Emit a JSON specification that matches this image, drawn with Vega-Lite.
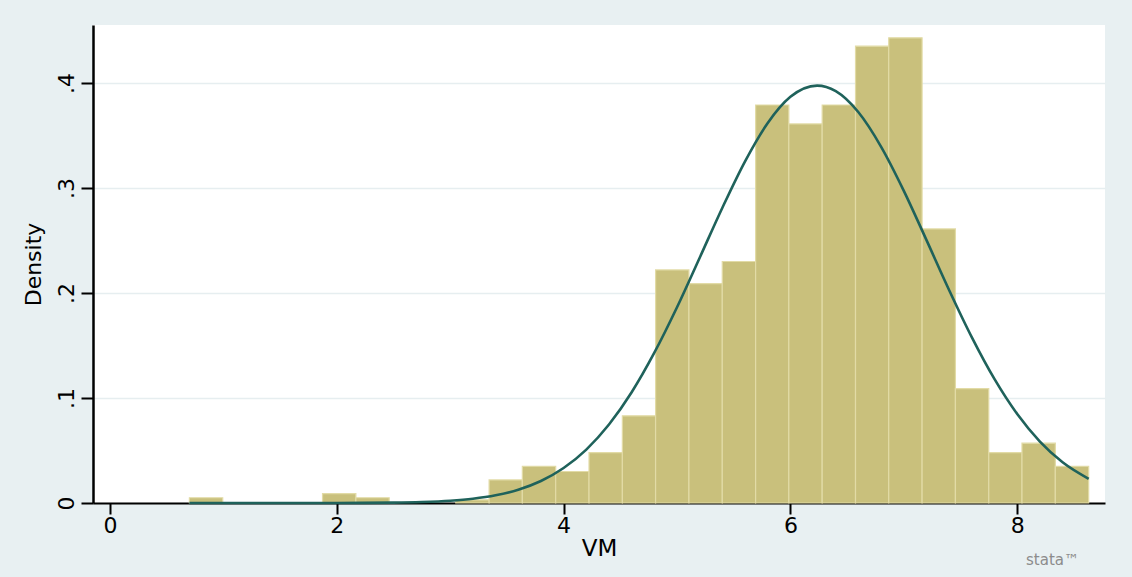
{
  "$schema": "https://vega.github.io/schema/vega-lite/v6.json",
  "width": 1012,
  "height": 478,
  "autosize": {"type": "none"},
  "padding": {"left": 93, "top": 25, "right": 27, "bottom": 74},
  "background": "#E8F0F2",
  "config": {
    "view": {"fill": "white", "stroke": null},
    "font": "DejaVu Sans"
  },
  "title": {
    "text": "stata™",
    "orient": "bottom",
    "anchor": "end",
    "fontSize": 15,
    "font": "DejaVu Sans",
    "fontWeight": "normal",
    "color": "#8C8C8C",
    "offset": -7,
    "dx": -26
  },
  "datasets": {
    "bins": [
      {"x0": 0.700, "x1": 0.994, "density": 0.005},
      {"x0": 1.874, "x1": 2.168, "density": 0.009},
      {"x0": 2.168, "x1": 2.462, "density": 0.005},
      {"x0": 3.049, "x1": 3.343, "density": 0.003},
      {"x0": 3.343, "x1": 3.636, "density": 0.022},
      {"x0": 3.636, "x1": 3.930, "density": 0.035},
      {"x0": 3.930, "x1": 4.224, "density": 0.030},
      {"x0": 4.224, "x1": 4.518, "density": 0.048},
      {"x0": 4.518, "x1": 4.811, "density": 0.083},
      {"x0": 4.811, "x1": 5.105, "density": 0.222},
      {"x0": 5.105, "x1": 5.399, "density": 0.209},
      {"x0": 5.399, "x1": 5.693, "density": 0.230},
      {"x0": 5.693, "x1": 5.986, "density": 0.379},
      {"x0": 5.986, "x1": 6.280, "density": 0.361},
      {"x0": 6.280, "x1": 6.574, "density": 0.379},
      {"x0": 6.574, "x1": 6.867, "density": 0.435},
      {"x0": 6.867, "x1": 7.161, "density": 0.443},
      {"x0": 7.161, "x1": 7.455, "density": 0.261},
      {"x0": 7.455, "x1": 7.749, "density": 0.109},
      {"x0": 7.749, "x1": 8.042, "density": 0.048},
      {"x0": 8.042, "x1": 8.336, "density": 0.057},
      {"x0": 8.336, "x1": 8.630, "density": 0.035}
    ],
    "curve": [
      {"vm": 0.70, "normal": 0.0},
      {"vm": 1.50, "normal": 0.00001},
      {"vm": 2.00, "normal": 0.00005},
      {"vm": 2.50, "normal": 0.00039},
      {"vm": 2.75, "normal": 0.00096},
      {"vm": 3.00, "normal": 0.0022},
      {"vm": 3.20, "normal": 0.0041},
      {"vm": 3.40, "normal": 0.00735},
      {"vm": 3.60, "normal": 0.01266},
      {"vm": 3.80, "normal": 0.02096},
      {"vm": 4.00, "normal": 0.03329},
      {"vm": 4.20, "normal": 0.05088},
      {"vm": 4.40, "normal": 0.07473},
      {"vm": 4.60, "normal": 0.10546},
      {"vm": 4.80, "normal": 0.1431},
      {"vm": 5.00, "normal": 0.1864},
      {"vm": 5.20, "normal": 0.2336},
      {"vm": 5.40, "normal": 0.2812},
      {"vm": 5.60, "normal": 0.3254},
      {"vm": 5.80, "normal": 0.3619},
      {"vm": 6.00, "normal": 0.3868},
      {"vm": 6.235, "normal": 0.3975},
      {"vm": 6.40, "normal": 0.3922},
      {"vm": 6.60, "normal": 0.3721},
      {"vm": 6.80, "normal": 0.3392},
      {"vm": 7.00, "normal": 0.2973},
      {"vm": 7.20, "normal": 0.2503},
      {"vm": 7.40, "normal": 0.2026},
      {"vm": 7.60, "normal": 0.1577},
      {"vm": 7.80, "normal": 0.1179},
      {"vm": 8.00, "normal": 0.0847},
      {"vm": 8.20, "normal": 0.0585},
      {"vm": 8.40, "normal": 0.0388},
      {"vm": 8.63, "normal": 0.02306}
    ]
  },
  "layer": [
    {
      "data": {"name": "bins"},
      "mark": {"type": "rect", "fill": "#C9C07C", "stroke": "#E2DBA6", "strokeWidth": 1.2},
      "encoding": {
        "x": {
          "field": "x0",
          "type": "quantitative",
          "scale": {"domain": [-0.15, 8.774], "nice": false, "zero": false},
          "axis": {
            "values": [0, 2, 4, 6, 8],
            "format": "d",
            "title": "VM",
            "titleFontSize": 23,
            "titleFontWeight": "normal",
            "titleColor": "black",
            "titlePadding": 1,
            "labelFontSize": 22,
            "labelColor": "black",
            "labelPadding": 1,
            "tickSize": 11,
            "tickWidth": 2,
            "tickColor": "black",
            "domainColor": "black",
            "domainWidth": 2,
            "grid": false
          }
        },
        "x2": {"field": "x1"},
        "y": {
          "field": "density",
          "type": "quantitative",
          "scale": {"domain": [0, 0.4552], "nice": false},
          "axis": {
            "values": [0, 0.1, 0.2, 0.3, 0.4],
            "labelExpr": "datum.value == 0 ? '0' : replace(format(datum.value, '.1f'), '0.', '.')",
            "title": "Density",
            "titleFontSize": 22,
            "titleFontWeight": "normal",
            "titleColor": "black",
            "titlePadding": 10,
            "labelAngle": 270,
            "labelAlign": "center",
            "labelBaseline": "bottom",
            "labelFontSize": 22,
            "labelColor": "black",
            "labelPadding": 3,
            "tickSize": 12,
            "tickWidth": 2,
            "tickColor": "black",
            "domainColor": "black",
            "domainWidth": 2.5,
            "grid": true,
            "gridColor": "#E6EEF0",
            "gridWidth": 1.5
          }
        },
        "y2": {"datum": 0}
      }
    },
    {
      "data": {"name": "curve"},
      "mark": {"type": "line", "color": "#1F625B", "strokeWidth": 2.6, "interpolate": "monotone"},
      "encoding": {
        "x": {"field": "vm", "type": "quantitative"},
        "y": {"field": "normal", "type": "quantitative"}
      }
    }
  ]
}
